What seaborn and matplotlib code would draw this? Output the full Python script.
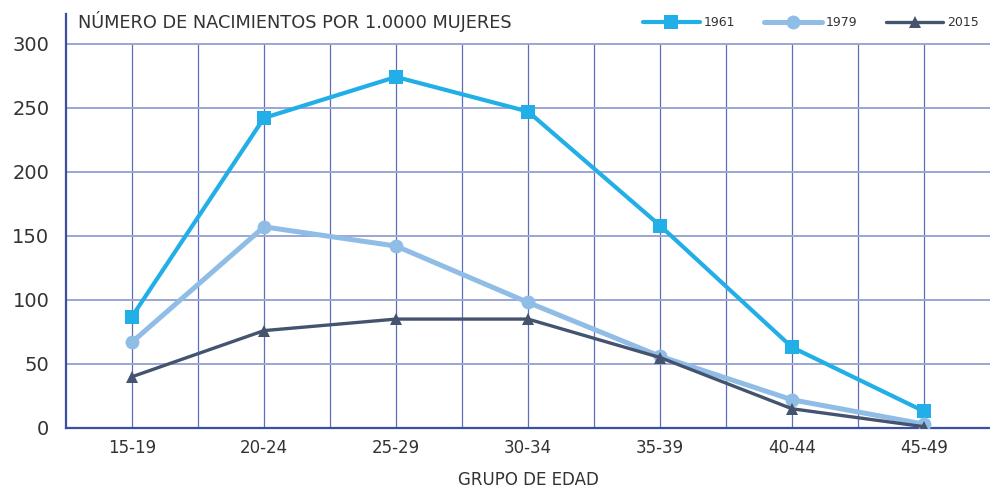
import matplotlib
matplotlib.use("Agg")
import matplotlib.pyplot as plt
import pandas as pd
import seaborn as sns

# data
grupos = ["15-19", "20-24", "25-29", "30-34", "35-39", "40-44", "45-49"]
anios = ["1961", "1979", "2015"]
v1961 = [87, 242, 274, 247, 158, 63, 13]
v1979 = [67, 157, 142, 98, 56, 22, 3]
v2015 = [40, 76, 85, 85, 55, 15, 1]

colores = {"1961": "#22aee6", "1979": "#8fbde6", "2015": "#44546f"}
marcadores = {"1961": "s", "1979": "o", "2015": "^"}
grosores = {"1961": 3.0, "1979": 3.6, "2015": 2.4}
tamanos = {"1961": 10, "1979": 10, "2015": 9}

df = pd.DataFrame({
    "grupo": grupos * 3,
    "anio": ["1961"] * 7 + ["1979"] * 7 + ["2015"] * 7,
    "valor": v1961 + v1979 + v2015,
})

sns.set_style("white")
plt.rcParams["font.family"] = ["DejaVu Sans"]

fig = plt.figure(figsize=(9.9, 4.88), dpi=100)
ax = fig.add_axes([0.0667, 0.123, 0.9333, 0.848])

# grid only up to 300
for k in range(1, 14):
    ax.vlines(-0.5 + 0.5 * k, 0, 300, color="#5d6dbb", lw=0.9, zorder=1)
for yv in range(50, 301, 50):
    ax.hlines(yv, -0.5, 6.5, color="#9ca6d6", lw=1.4, zorder=1)

for a in anios:
    sub = df[df["anio"] == a]
    sns.lineplot(data=sub, x="grupo", y="valor", ax=ax, color=colores[a],
                 marker=marcadores[a], markersize=tamanos[a], lw=grosores[a],
                 markeredgewidth=0, label=a, zorder=3)

ax.set_xlim(-0.5, 6.5)
ax.set_ylim(0, 323)
ax.set_yticks(range(0, 301, 50))
for s in ["top", "right"]:
    ax.spines[s].set_visible(False)
for s in ["left", "bottom"]:
    ax.spines[s].set_color("#3d4fa3")
    ax.spines[s].set_linewidth(1.6)
ax.tick_params(axis="both", length=0, colors="#333333")
ax.tick_params(axis="y", labelsize=14, pad=12)
ax.tick_params(axis="x", labelsize=12, pad=8)
ax.set_ylabel("")
ax.set_xlabel("GRUPO DE EDAD", fontsize=12, color="#333333", labelpad=10)

ax.text(-0.41, 317, "NÚMERO DE NACIMIENTOS POR 1.0000 MUJERES",
        fontsize=12.8, color="#333333", va="center", ha="left")

ax.legend(loc="upper right", bbox_to_anchor=(1.0, 1.022), ncol=3, frameon=False,
          fontsize=9, handlelength=4.6, columnspacing=2.3, handletextpad=0.3,
          labelcolor="#333333")

fig.savefig("out.png", dpi=100)
